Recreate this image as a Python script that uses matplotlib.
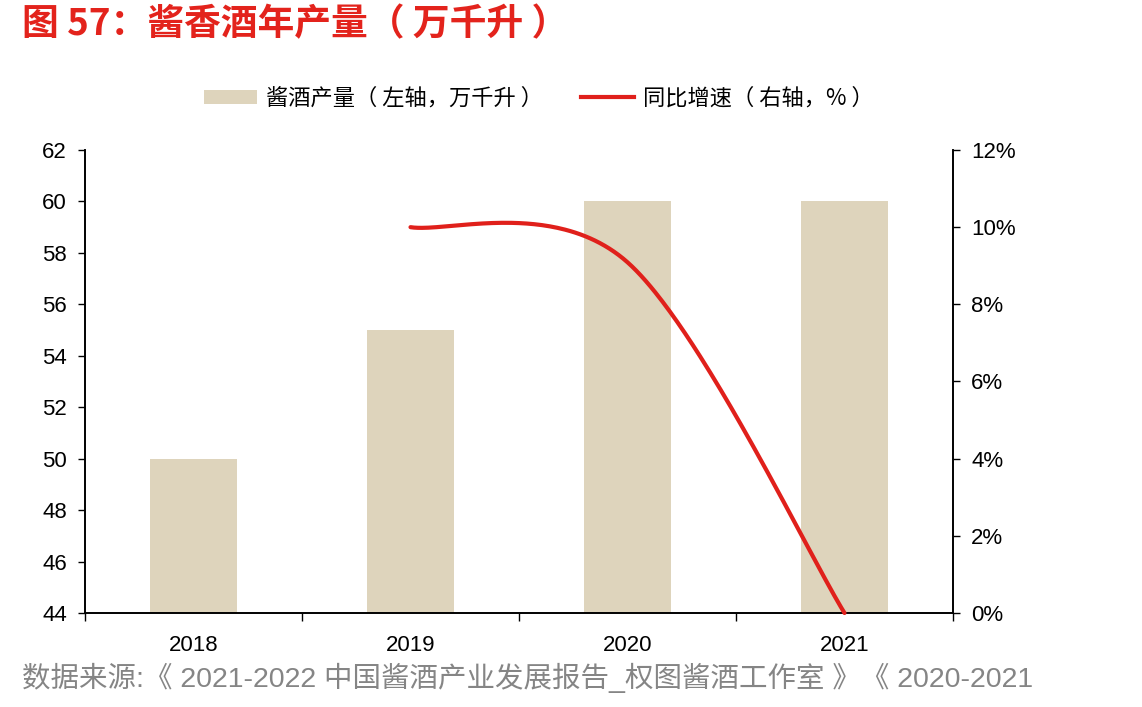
import numpy as np
import matplotlib
matplotlib.use("Agg")
import matplotlib.pyplot as plt
from matplotlib.patches import Patch
from matplotlib.lines import Line2D
from matplotlib.ticker import FuncFormatter, MultipleLocator

plt.rcParams['font.family'] = ['Liberation Sans', 'Noto Sans CJK SC', 'DejaVu Sans']

years = ['2018', '2019', '2020', '2021']
output = [50, 55, 60, 60]          # 万千升
growth_years = ['2019', '2020', '2021']
growth = [10.0, 9.09, 0.0]         # %

bar_color = '#DED4BC'
line_color = '#E0201B'

fig = plt.figure(figsize=(11.42, 7.07), dpi=100)
ax = fig.add_axes([85/1142, 1-613/707, (953-85)/1142, (613-150)/707])
ax2 = ax.twinx()

x = np.arange(len(years))
ax.bar(x, output, width=0.4, color=bar_color, zorder=2)
ax.set_xlim(-0.5, len(years)-0.5)
ax.set_ylim(44, 62)
ax.yaxis.set_major_locator(MultipleLocator(2))
ax.set_xticks(x)
ax.set_xticklabels(years)
ax.set_xticks(np.arange(-0.5, len(years), 1.0), minor=True)
ax.tick_params(axis='x', which='major', length=0, pad=16, labelsize=16)
ax.tick_params(axis='x', which='minor', length=6, width=1, direction='out')
ax.tick_params(axis='y', length=5, width=1, direction='out', labelsize=16, pad=8)

# smooth line (Catmull-Rom style Bezier, Excel-like)
gx = np.array([years.index(y) for y in growth_years], dtype=float)
gy = np.array(growth, dtype=float)
pts = np.column_stack([gx, gy])
n = len(pts)
samples = []
for i in range(n-1):
    p0 = pts[max(i-1, 0)]; p1 = pts[i]; p2 = pts[i+1]; p3 = pts[min(i+2, n-1)]
    c1 = p1 + (p2 - p0)/6
    c2 = p2 - (p3 - p1)/6
    t = np.linspace(0, 1, 100)[:, None]
    seg = (1-t)**3*p1 + 3*(1-t)**2*t*c1 + 3*(1-t)*t**2*c2 + t**3*p2
    samples.append(seg)
seg = np.vstack(samples)
ax2.plot(seg[:, 0], seg[:, 1], color=line_color, lw=3, solid_capstyle='round', zorder=3, clip_on=False)
ax2.set_ylim(0, 12)
ax2.yaxis.set_major_locator(MultipleLocator(2))
ax2.yaxis.set_major_formatter(FuncFormatter(lambda v, p: f'{v:.0f}%'))
ax2.tick_params(axis='y', length=5, width=1, direction='out', labelsize=16, pad=8)

for a in (ax, ax2):
    a.spines['top'].set_visible(False)
    for s in ('left', 'right', 'bottom'):
        a.spines[s].set_linewidth(1.2)
        a.spines[s].set_color('black')

handles = [Patch(facecolor=bar_color, edgecolor='none'),
           Line2D([0], [0], color=line_color, lw=3)]
labels = ['酱酒产量（ 左轴，万千升 ）', '同比增速（ 右轴，% ）']
fig.legend(handles, labels, loc='center', bbox_to_anchor=(539/1142, 1-98/707), ncol=2,
           frameon=False, handlelength=2.4, handleheight=0.6,
           columnspacing=1.7, handletextpad=0.4,
           prop={'family': ['Noto Sans CJK SC', 'DejaVu Sans'], 'size': 16})

fig.text(22/1142, 1-25/707, '图 57：酱香酒年产量（ 万千升 ）', color='#E3231C', fontsize=26.5,
         fontweight='bold', va='center', ha='left',
         family=['Noto Sans CJK SC', 'DejaVu Sans'])
fig.text(22/1142, 1-678/707, '数据来源:《 2021-2022 中国酱酒产业发展报告_权图酱酒工作室 》《 2020-2021',
         color='#858585', fontsize=20.5, va='center', ha='left',
         family=['Liberation Sans', 'Noto Sans CJK SC', 'DejaVu Sans'])

fig.savefig('out.png', dpi=100)
